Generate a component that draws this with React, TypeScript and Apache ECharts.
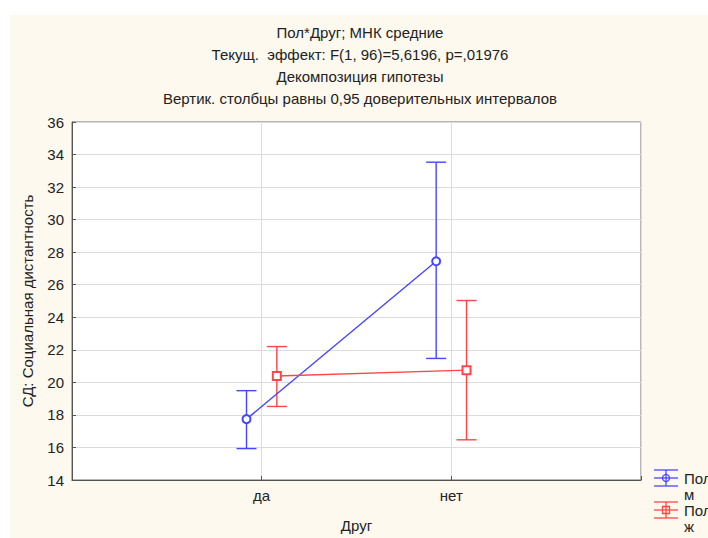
import React, { useEffect, useRef } from "react";
import * as echarts from "echarts";

const titleLines = [
  "Пол*Друг; МНК средние",
  "Текущ.  эффект: F(1, 96)=5,6196, p=,01976",
  "Декомпозиция гипотезы",
  "Вертик. столбцы равны 0,95 доверительных интервалов",
];
const categories = ["да", "нет"];
const yTicks = [14, 16, 18, 20, 22, 24, 26, 28, 30, 32, 34, 36];
const seriesNames = ["Пол\nм", "Пол\nж"];
const maleMean = [17.74, 27.44];
const maleLow = [15.93, 21.47];
const maleHigh = [19.49, 33.53];
const femaleMean = [20.39, 20.75];
const femaleLow = [18.52, 16.47];
const femaleHigh = [22.2, 25.03];

const BLUE = "#4646ff";
const RED = "#ff4646";
const OFFSET = 0.08;

export default function App() {
  const ref = useRef<HTMLDivElement>(null);
  useEffect(() => {
    if (!ref.current) return;
    const chart = echarts.init(ref.current, null, { renderer: "svg" });
    const font = "'Liberation Sans', Arial, sans-serif";
    const FS = 15;

    const mk = (means: number[], off: number) =>
      means.map((m, i) => [i + 1 + off, m]);
    const mkErr = (lo: number[], hi: number[], off: number) =>
      lo.map((l, i) => [i + 1 + off, l, hi[i]]);

    const errRender = (color: string) => (params: any, api: any) => {
      const x = api.value(0);
      const lo = api.coord([x, api.value(1)]);
      const hi = api.coord([x, api.value(2)]);
      const hw = 10;
      const style = { stroke: color, lineWidth: 1.4 };
      return {
        type: "group",
        children: [
          { type: "line", shape: { x1: lo[0], y1: lo[1], x2: hi[0], y2: hi[1] }, style },
          { type: "line", shape: { x1: lo[0] - hw, y1: lo[1], x2: lo[0] + hw, y2: lo[1] }, style },
          { type: "line", shape: { x1: hi[0] - hw, y1: hi[1], x2: hi[0] + hw, y2: hi[1] }, style },
        ],
      };
    };

    const legendIcon = (y: number, color: string, symbol: "circle" | "rect") => {
      const st = { stroke: color, lineWidth: 1.3, fill: "none" };
      const children: any[] = [
        { type: "line", shape: { x1: 654, y1: y - 8, x2: 678, y2: y - 8 }, style: st },
        { type: "line", shape: { x1: 654, y1: y + 8, x2: 678, y2: y + 8 }, style: st },
        { type: "line", shape: { x1: 654, y1: y, x2: 678, y2: y }, style: st },
        { type: "line", shape: { x1: 666, y1: y - 8, x2: 666, y2: y + 8 }, style: st },
      ];
      if (symbol === "circle") {
        children.push({ type: "circle", shape: { cx: 666, cy: y, r: 3.5 }, style: st });
      } else {
        children.push({ type: "rect", shape: { x: 662.5, y: y - 3.5, width: 7, height: 7 }, style: st });
      }
      return children;
    };

    chart.setOption({
      animation: false,
      backgroundColor: "#ffffff",
      textStyle: { fontFamily: font },
      title: titleLines.map((t, i) => ({
        text: t,
        left: 360,
        textAlign: "center",
        top: 25 + i * 22,
        padding: 0,
        textStyle: { fontSize: FS, fontWeight: "normal", color: "#222", fontFamily: font },
      })),
      graphic: [
        {
          type: "rect",
          z: -10,
          silent: true,
          shape: { x: 10, y: 15, width: 698, height: 523 },
          style: { fill: "#fef9ef" },
        },
        ...legendIcon(478, BLUE, "circle"),
        ...legendIcon(510, RED, "rect"),
        { type: "text", x: 684, y: 470, style: { text: seriesNames[0], fontSize: FS, lineHeight: 16, fill: "#222", fontFamily: font } },
        { type: "text", x: 684, y: 502, style: { text: seriesNames[1], fontSize: FS, lineHeight: 16, fill: "#222", fontFamily: font } },
      ],
      grid: {
        left: 72,
        top: 122,
        width: 569,
        height: 364,
        show: true,
        backgroundColor: "#ffffff",
        borderColor: "#6e6e6e",
        borderWidth: 1,
      },
      xAxis: {
        type: "value",
        min: 0,
        max: 3,
        interval: 1,
        name: "Друг",
        nameLocation: "middle",
        nameGap: 38,
        nameTextStyle: { fontSize: FS, color: "#222" },
        axisLine: { lineStyle: { color: "#555" } },
        axisTick: { inside: true, length: 4, lineStyle: { color: "#555" } },
        axisLabel: {
          fontSize: FS,
          color: "#222",
          margin: 8,
          formatter: (v: number) => (v >= 1 && v <= categories.length ? categories[v - 1] : ""),
        },
        splitLine: { show: true, lineStyle: { color: "#dcdcdc" } },
      },
      yAxis: {
        type: "value",
        min: 14,
        max: 36,
        interval: 2,
        name: "СД: Социальная дистантность",
        nameLocation: "middle",
        nameGap: 37,
        nameTextStyle: { fontSize: FS, color: "#222" },
        axisLine: { show: true, lineStyle: { color: "#555" } },
        axisTick: { inside: true, length: 4, lineStyle: { color: "#555" } },
        axisLabel: {
          fontSize: FS,
          color: "#222",
          margin: 8,
          formatter: (v: number) => (yTicks.includes(v) ? String(v) : ""),
        },
        splitLine: { show: true, lineStyle: { color: "#dcdcdc" } },
      },
      series: [
        {
          name: seriesNames[0],
          type: "line",
          data: mk(maleMean, -OFFSET),
          symbol: "emptyCircle",
          symbolSize: 8,
          lineStyle: { color: BLUE, width: 1.4 },
          itemStyle: { color: BLUE, borderWidth: 1.3 },
          z: 3,
        },
        {
          name: seriesNames[0] + " ДИ",
          type: "custom",
          data: mkErr(maleLow, maleHigh, -OFFSET),
          renderItem: errRender(BLUE),
          encode: { x: 0, y: [1, 2] },
          z: 2,
        },
        {
          name: seriesNames[1],
          type: "line",
          data: mk(femaleMean, OFFSET),
          symbol: "emptyRect",
          symbolSize: 8,
          lineStyle: { color: RED, width: 1.4 },
          itemStyle: { color: RED, borderWidth: 1.3 },
          z: 3,
        },
        {
          name: seriesNames[1] + " ДИ",
          type: "custom",
          data: mkErr(femaleLow, femaleHigh, OFFSET),
          renderItem: errRender(RED),
          encode: { x: 0, y: [1, 2] },
          z: 2,
        },
      ],
    });
    return () => chart.dispose();
  }, []);

  return (
    <div
      ref={ref}
      style={{ width: 708, height: 538, position: "absolute", left: 0, top: 0 }}
    />
  );
}
